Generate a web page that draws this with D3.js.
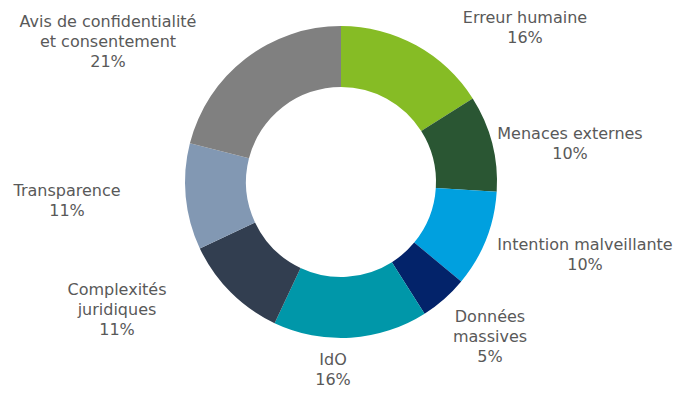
<!DOCTYPE html>
<html><head><meta charset="utf-8">
<script src="https://cdn.jsdelivr.net/npm/d3@7"></script>
<style>body{margin:0;background:#fff}svg{display:block}text{font-family:"DejaVu Sans",Verdana,sans-serif}</style>
</head><body>
<script>
const categories = ["Erreur humaine","Menaces externes","Intention malveillante","Données massives","IdO","Complexités juridiques","Transparence","Avis de confidentialité et consentement"];
const values = [16,10,10,5,16,11,11,21];
const colors = ["#86BC25","#2A5633","#00A0DF","#03236A","#0097A9","#323E50","#8298B3","#808080"];
const labelLines = [["Erreur humaine"],["Menaces externes"],["Intention malveillante"],["Données","massives"],["IdO"],["Complexités","juridiques"],["Transparence"],["Avis de confidentialité","et consentement"]];
// label anchor positions (layout)
const labelPos = [[525,17],[570,133],[585,244],[490,316],[333,359],[117,289],[67,190],[108,21]];

const W=687,H=405, cx=341, cy=182, R=156, r=95;
const svg=d3.select("body").append("svg").attr("width",W).attr("height",H);
const pie=d3.pie().sort(null).value(d=>d)(values);
const arc=d3.arc().innerRadius(r).outerRadius(R);
const g=svg.append("g").attr("transform",`translate(${cx},${cy})`);
g.selectAll("path").data(pie).enter().append("path").attr("d",arc).attr("fill",(d,i)=>colors[i]);
const lg=svg.append("g");
labelLines.forEach((lines,i)=>{
  const all=lines.concat([values[i]+"%"]);
  const t=lg.append("text").attr("text-anchor","middle").attr("fill","#595959").attr("font-size",16);
  all.forEach((s,j)=>t.append("tspan").attr("x",labelPos[i][0]).attr("y",labelPos[i][1]+j*20).attr("dy","0.35em").text(s));
});
</script>
</body></html>
